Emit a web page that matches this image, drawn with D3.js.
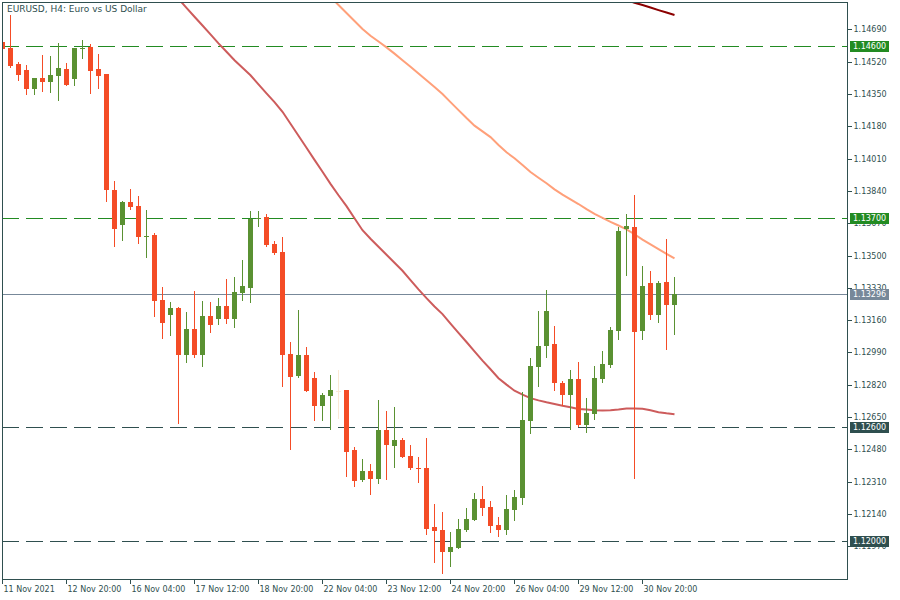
<!DOCTYPE html>
<html><head><meta charset="utf-8">
<script src="https://cdn.jsdelivr.net/npm/d3@7"></script>
<style>
html,body{margin:0;padding:0;background:#fff;}
svg text{font-family:"DejaVu Sans",sans-serif;font-size:8px;fill:#2F4F4F;}
</style></head>
<body>
<svg id="c" width="900" height="600"></svg>
<script>
// ---- data ----
const openP  = [1.14622,1.14593,1.14507,1.14476,1.14377,1.14434,1.14414,1.14444,1.14481,1.14430,1.14586,1.14597,1.14481,1.14456,1.13844,1.13660,1.13781,1.13760,1.13597,1.13607,1.13265,1.13186,1.13223,1.12976,1.13113,1.12976,1.13181,1.13165,1.13234,1.13165,1.13302,1.13328,1.13694,1.13701,1.13562,1.13518,1.12981,1.12867,1.12976,1.12855,1.12709,1.12762,1.12790,1.12792,1.12476,1.12320,1.12365,1.12325,1.12581,1.12498,1.12528,1.12444,1.12381,1.12381,1.12071,1.12055,1.11940,1.11962,1.12055,1.12107,1.12218,1.12176,1.12081,1.12055,1.12160,1.12223,1.12630,1.12914,1.13025,1.13034,1.12828,1.12767,1.12850,1.12609,1.12667,1.12851,1.12925,1.13104,1.13639,1.13650,1.13104,1.13355,1.13188,1.13360,1.13241];
const highP  = [1.14625,1.14765,1.14518,1.14501,1.14434,1.14555,1.14550,1.14620,1.14513,1.14592,1.14634,1.14613,1.14560,1.14456,1.13892,1.13786,1.13850,1.13813,1.13739,1.13618,1.13334,1.13255,1.13228,1.13202,1.13313,1.13260,1.13255,1.13276,1.13376,1.13386,1.13476,1.13734,1.13734,1.13718,1.13576,1.13597,1.13044,1.13213,1.13018,1.12886,1.12776,1.12871,1.12897,1.12792,1.12492,1.12428,1.12402,1.12739,1.12681,1.12702,1.12539,1.12502,1.12439,1.12539,1.12192,1.12150,1.12044,1.12113,1.12171,1.12250,1.12286,1.12207,1.12123,1.12239,1.12265,1.12781,1.12960,1.13207,1.13318,1.13128,1.12839,1.12897,1.12939,1.12750,1.12918,1.12997,1.13123,1.13650,1.13718,1.13818,1.13444,1.13418,1.13365,1.13586,1.13386];
const lowP   = [1.14586,1.14493,1.14423,1.14351,1.14351,1.14367,1.14362,1.14320,1.14397,1.14398,1.14541,1.14355,1.14381,1.13788,1.13550,1.13581,1.13744,1.13565,1.13492,1.13181,1.13065,1.13081,1.12618,1.12939,1.12965,1.12918,1.13097,1.13139,1.13144,1.13123,1.13265,1.13255,1.13655,1.13550,1.13509,1.12814,1.12483,1.12862,1.12786,1.12635,1.12635,1.12588,1.12643,1.12341,1.12288,1.12314,1.12246,1.12304,1.12325,1.12388,1.12439,1.12377,1.12309,1.12035,1.11888,1.11830,1.11867,1.11960,1.12050,1.12107,1.12134,1.12044,1.12023,1.12034,1.12107,1.12192,1.12567,1.12814,1.12967,1.12793,1.12714,1.12588,1.12604,1.12572,1.12640,1.12835,1.12914,1.13062,1.13398,1.12330,1.13062,1.13167,1.13151,1.13009,1.13088];
const closeP = [1.14588,1.14498,1.14450,1.14377,1.14434,1.14414,1.14450,1.14486,1.14397,1.14592,1.14592,1.14472,1.14444,1.13846,1.13639,1.13781,1.13755,1.13597,1.13602,1.13260,1.13144,1.13223,1.12976,1.13113,1.12976,1.13181,1.13134,1.13234,1.13165,1.13307,1.13339,1.13692,1.13697,1.13555,1.13514,1.12977,1.12862,1.12976,1.12788,1.12709,1.12765,1.12792,1.12790,1.12467,1.12314,1.12365,1.12325,1.12581,1.12504,1.12528,1.12441,1.12383,1.12378,1.12062,1.12051,1.11940,1.11965,1.12060,1.12113,1.12218,1.12171,1.12076,1.12055,1.12165,1.12228,1.12634,1.12918,1.13023,1.13207,1.12830,1.12767,1.12850,1.12609,1.12671,1.12855,1.12928,1.13107,1.13628,1.13655,1.13098,1.13339,1.13188,1.13355,1.13241,1.13296];

// moving averages (start index, values)
const maRedStart = 21;
const maRed = [1.14897,1.14850,1.14803,1.14756,1.14710,1.14663,1.14616,1.14572,1.14527,1.14488,1.14448,1.14400,1.14353,1.14307,1.14256,1.14193,1.14130,1.14067,1.14003,1.13941,1.13877,1.13817,1.13760,1.13696,1.13633,1.13588,1.13546,1.13504,1.13462,1.13420,1.13371,1.13322,1.13276,1.13232,1.13192,1.13142,1.13093,1.13045,1.12996,1.12947,1.12902,1.12855,1.12821,1.12789,1.12768,1.12750,1.12738,1.12728,1.12719,1.12710,1.12702,1.12693,1.12690,1.12686,1.12685,1.12686,1.12690,1.12695,1.12695,1.12694,1.12686,1.12676,1.12670,1.12665];
const maSalmonStart = 41;
const maSalmon = [1.14860,1.14818,1.14776,1.14734,1.14692,1.14656,1.14626,1.14595,1.14562,1.14527,1.14493,1.14457,1.14422,1.14386,1.14350,1.14307,1.14265,1.14223,1.14183,1.14153,1.14123,1.14081,1.14043,1.14012,1.13976,1.13939,1.13909,1.13880,1.13848,1.13820,1.13795,1.13771,1.13744,1.13719,1.13698,1.13677,1.13658,1.13638,1.13612,1.13584,1.13559,1.13534,1.13509,1.13485];
const maDarkStart = 78;
const maDark = [1.14843,1.14830,1.14818,1.14805,1.14791,1.14778,1.14765];

const priceTicks = [1.14690,1.14520,1.14350,1.14180,1.14010,1.13840,1.13670,1.13500,1.13330,1.13160,1.12990,1.12820,1.12650,1.12480,1.12310,1.12140,1.11970];
const timeTickIdx = [0,8,16,24,32,40,48,56,64,72,80];
const timeLabels = ["11 Nov 2021","12 Nov 20:00","16 Nov 04:00","17 Nov 12:00","18 Nov 20:00","22 Nov 04:00","23 Nov 12:00","24 Nov 20:00","26 Nov 04:00","29 Nov 12:00","30 Nov 20:00"];
const levelValues = [1.14600,1.13700,1.12600,1.12000];
const lastPrice = 1.13296;
const title = "EURUSD, H4:  Euro vs US Dollar";

// ---- styling ----
const C = {frame:"#2F4F4F", bull:"#5A9132", bear:"#F44C26", doji:"#FBE9D6",
  green:"#228B22", dark:"#2F4F4F", last:"#778899",
  maRed:"#CD5C5C", maSalmon:"#FFA07A", maDark:"#8B0000"};
const levelColors = [C.green,C.green,C.dark,C.dark];

const L=2, T=2, R=847, B=579;
const svg = d3.select("#c");
const x = d3.scaleLinear().domain([0,84]).range([2.5, 2.5+8*84]);
const y = d3.scaleLinear().domain([1.14690,1.12000]).range([29.3,540.7]);

svg.append("defs").append("clipPath").attr("id","plot")
  .append("rect").attr("x",L+1).attr("y",T+1).attr("width",R-L-1).attr("height",B-T-1);

const plot = svg.append("g").attr("clip-path","url(#plot)");

// level lines
const ry = v => Math.round(y(v))+0.5;
levelValues.forEach((v,k)=>{
  plot.append("line").attr("x1",L).attr("x2",R).attr("y1",ry(v)).attr("y2",ry(v))
    .attr("stroke",levelColors[k]).attr("stroke-width",1).attr("stroke-dasharray","17,7")
    .attr("shape-rendering","crispEdges");
});
plot.append("line").attr("x1",L).attr("x2",R).attr("y1",ry(lastPrice)).attr("y2",ry(lastPrice))
  .attr("stroke",C.last).attr("stroke-width",1).attr("shape-rendering","crispEdges");

// moving averages
function drawMA(vals, start, color){
  const line = d3.line().x((d,i)=>x(start+i)).y(d=>y(d));
  plot.append("path").attr("d", line(vals)).attr("fill","none")
    .attr("stroke",color).attr("stroke-width",2);
}
drawMA(maRed, maRedStart, C.maRed);
drawMA(maSalmon, maSalmonStart, C.maSalmon);
drawMA(maDark, maDarkStart, C.maDark);

// candles
const idx = d3.range(openP.length);
const col = i => closeP[i]>openP[i]?C.bull:(closeP[i]<openP[i]?C.bear:C.doji);
const cg = plot.append("g").attr("shape-rendering","crispEdges");
cg.selectAll("rect.w").data(idx).join("rect").attr("class","w")
  .attr("x",i=>x(i)-0.5).attr("width",1)
  .attr("y",i=>Math.round(y(highP[i])))
  .attr("height",i=>Math.max(1,Math.round(y(lowP[i]))-Math.round(y(highP[i]))+1))
  .attr("fill",col);
cg.selectAll("rect.b").data(idx).join("rect").attr("class","b")
  .attr("x",i=>x(i)-2.5).attr("width",5)
  .attr("y",i=>Math.round(y(Math.max(openP[i],closeP[i]))))
  .attr("height",i=>Math.max(1,Math.round(y(Math.min(openP[i],closeP[i])))-Math.round(y(Math.max(openP[i],closeP[i])))))
  .attr("fill",col);

// frame
svg.append("rect").attr("x",L+0.5).attr("y",T+0.5).attr("width",R-L).attr("height",B-T)
  .attr("fill","none").attr("stroke",C.frame).attr("stroke-width",1).attr("shape-rendering","crispEdges");

// right axis
const ya = d3.axisRight(y).tickValues(priceTicks).tickSize(4).tickPadding(2)
  .tickFormat(d3.format(".5f")).offset(0);
const gy = svg.append("g").attr("transform",`translate(${R+0.5},0)`).call(ya);
gy.select(".domain").remove();
gy.selectAll(".tick line").attr("stroke",C.frame).attr("shape-rendering","crispEdges")
  .attr("transform","translate(0,0.5)");
gy.selectAll(".tick text").attr("fill",C.frame).style("font-family","DejaVu Sans").style("font-size","8px");
gy.selectAll(".tick").attr("transform",d=>`translate(0,${Math.round(y(d))})`);

// bottom axis
const xa = d3.axisBottom(x).tickValues(timeTickIdx).tickSize(4).tickPadding(3)
  .tickFormat((d,i)=>timeLabels[i]).offset(0);
const gx = svg.append("g").attr("transform",`translate(0,${B+0.5})`).call(xa);
gx.select(".domain").remove();
gx.selectAll(".tick line").attr("stroke",C.frame).attr("shape-rendering","crispEdges");
gx.selectAll(".tick text").attr("fill",C.frame).attr("text-anchor","start").attr("x",1)
  .style("font-family","DejaVu Sans").style("font-size","8px");

// price badges
function badge(v, bg){
  const yy = Math.round(y(v));
  svg.append("rect").attr("x",850).attr("y",yy-5).attr("width",39).attr("height",11).attr("fill",bg);
  svg.append("text").attr("x",853).attr("y",yy+3).style("fill","#fff").text(d3.format(".5f")(v));
}
levelValues.forEach((v,k)=>badge(v, levelColors[k]));
badge(lastPrice, C.last);

// title
svg.append("text").attr("x",7).attr("y",12).style("font-size","9px").text(title);
</script>
</body></html>
